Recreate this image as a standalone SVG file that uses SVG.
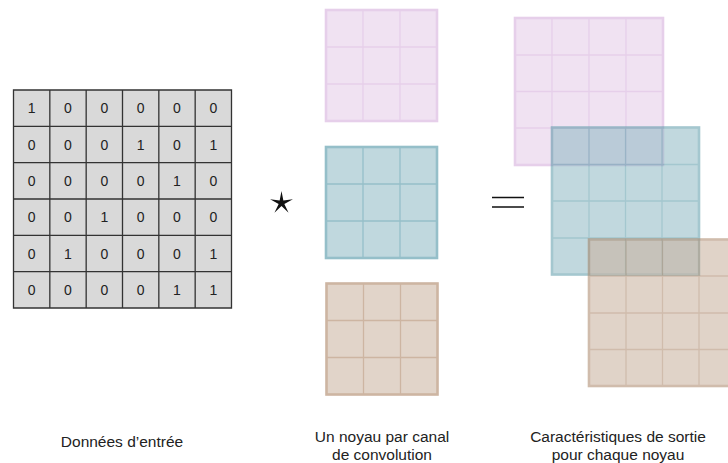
<svg xmlns="http://www.w3.org/2000/svg" width="728" height="463" viewBox="0 0 728 463">
<style>
.lbl{font-family:"Liberation Sans",Arial,sans-serif;font-size:15.5px;fill:#222;text-anchor:middle}
.num{font-family:"Liberation Sans",Arial,sans-serif;font-size:14px;fill:#222;text-anchor:middle}
.in-cell{fill:#d9d9d9}
.in-line{fill:none;stroke:#333;stroke-width:1.3}
.pk{fill:#f0e2f2}.pk-o{fill:none;stroke:#e6cfea;stroke-width:2.6}.pk-i{fill:none;stroke:#e6cfea;stroke-width:1.3}
.tk{fill:#c0d8de}.tk-o{fill:none;stroke:#95bfc9;stroke-width:2.6}.tk-i{fill:none;stroke:#95bfc9;stroke-width:1.3}
.bk{fill:#e1d4c9}.bk-o{fill:none;stroke:#cdb5a2;stroke-width:2.6}.bk-i{fill:none;stroke:#cdb5a2;stroke-width:1.3}
.tq{fill:#8fbac4}.tq-o{fill:none;stroke:#5a9aa8;stroke-width:2.6}.tq-i{fill:none;stroke:#5a9aa8;stroke-width:1.3}
.bq{fill:#cab3a0}.bq-o{fill:none;stroke:#ad8a6e;stroke-width:2.6}.bq-i{fill:none;stroke:#ad8a6e;stroke-width:1.3}
</style>

<g id="input">
<rect class="in-cell" x="13.5" y="90" width="218" height="218"/>
<path class="in-line" d="M13.5 90H231.5V308H13.5Z M49.83 90V308 M86.17 90V308 M122.5 90V308 M158.83 90V308 M195.17 90V308 M13.5 126.33H231.5 M13.5 162.67H231.5 M13.5 199H231.5 M13.5 235.33H231.5 M13.5 271.67H231.5"/>
<g>
<text class="num" x="31.7" y="113.2">1</text><text class="num" x="68" y="113.2">0</text><text class="num" x="104.3" y="113.2">0</text><text class="num" x="140.7" y="113.2">0</text><text class="num" x="177" y="113.2">0</text><text class="num" x="213.3" y="113.2">0</text>
<text class="num" x="31.7" y="149.5">0</text><text class="num" x="68" y="149.5">0</text><text class="num" x="104.3" y="149.5">0</text><text class="num" x="140.7" y="149.5">1</text><text class="num" x="177" y="149.5">0</text><text class="num" x="213.3" y="149.5">1</text>
<text class="num" x="31.7" y="185.8">0</text><text class="num" x="68" y="185.8">0</text><text class="num" x="104.3" y="185.8">0</text><text class="num" x="140.7" y="185.8">0</text><text class="num" x="177" y="185.8">1</text><text class="num" x="213.3" y="185.8">0</text>
<text class="num" x="31.7" y="222.2">0</text><text class="num" x="68" y="222.2">0</text><text class="num" x="104.3" y="222.2">1</text><text class="num" x="140.7" y="222.2">0</text><text class="num" x="177" y="222.2">0</text><text class="num" x="213.3" y="222.2">0</text>
<text class="num" x="31.7" y="258.5">0</text><text class="num" x="68" y="258.5">1</text><text class="num" x="104.3" y="258.5">0</text><text class="num" x="140.7" y="258.5">0</text><text class="num" x="177" y="258.5">0</text><text class="num" x="213.3" y="258.5">1</text>
<text class="num" x="31.7" y="294.8">0</text><text class="num" x="68" y="294.8">0</text><text class="num" x="104.3" y="294.8">0</text><text class="num" x="140.7" y="294.8">0</text><text class="num" x="177" y="294.8">1</text><text class="num" x="213.3" y="294.8">1</text>
</g>
</g>

<g id="star">
<polygon points="281.5,191 283.35,200.45 292.91,199.29 284.35,203.93 288.55,212.71 281.5,206 274.45,212.71 278.65,203.93 270.09,199.29 279.65,200.45" fill="#111"/>
</g>

<g id="kernel-pink">
<rect class="pk" x="326" y="10" width="111" height="111"/>
<path class="pk-i" d="M363 10V121 M400 10V121 M326 47H437 M326 84H437"/>
<rect class="pk-o" x="326" y="10" width="111" height="111"/>
</g>
<g id="kernel-teal">
<rect class="tk" x="326" y="147" width="111" height="111"/>
<path class="tk-i" d="M363 147V258 M400 147V258 M326 184H437 M326 221H437"/>
<rect class="tk-o" x="326" y="147" width="111" height="111"/>
</g>
<g id="kernel-tan">
<rect class="bk" x="326.5" y="283.5" width="111" height="111"/>
<path class="bk-i" d="M363.5 283.5V394.5 M400.5 283.5V394.5 M326.5 320.5H437.5 M326.5 357.5H437.5"/>
<rect class="bk-o" x="326.5" y="283.5" width="111" height="111"/>
</g>

<g id="equals">
<path d="M492 197.5H524 M492 207H524" stroke="#111" stroke-width="1.6" fill="none"/>
</g>

<g id="output-pink">
<rect class="pk" x="515" y="18" width="148" height="147"/>
<path class="pk-i" d="M552 18V165 M589 18V165 M626 18V165 M515 55H663 M515 91.5H663 M515 128H663"/>
<rect class="pk-o" x="515" y="18" width="148" height="147"/>
</g>
<g id="output-teal" opacity="0.55">
<rect class="tq" x="552" y="127.5" width="147" height="147"/>
<path class="tq-i" d="M589 127.5V274.5 M625.5 127.5V274.5 M662 127.5V274.5 M552 164.5H699 M552 201H699 M552 238H699"/>
<rect class="tq-o" x="552" y="127.5" width="147" height="147"/>
</g>
<g id="output-tan" opacity="0.57">
<rect class="bq" x="589" y="239.5" width="148" height="146.5"/>
<path class="bq-i" d="M626 239.5V386 M662.5 239.5V386 M699 239.5V386 M589 276H737 M589 313H737 M589 349.5H737"/>
<rect class="bq-o" x="589" y="239.5" width="148" height="146.5"/>
</g>

<g id="connectors"></g>

<g id="labels">
<text class="lbl" x="122" y="447">Données d’entrée</text>
<text class="lbl" x="382" y="442">Un noyau par canal</text>
<text class="lbl" x="382" y="460">de convolution</text>
<text class="lbl" x="618" y="442">Caractéristiques de sortie</text>
<text class="lbl" x="618" y="460">pour chaque noyau</text>
</g>
</svg>
